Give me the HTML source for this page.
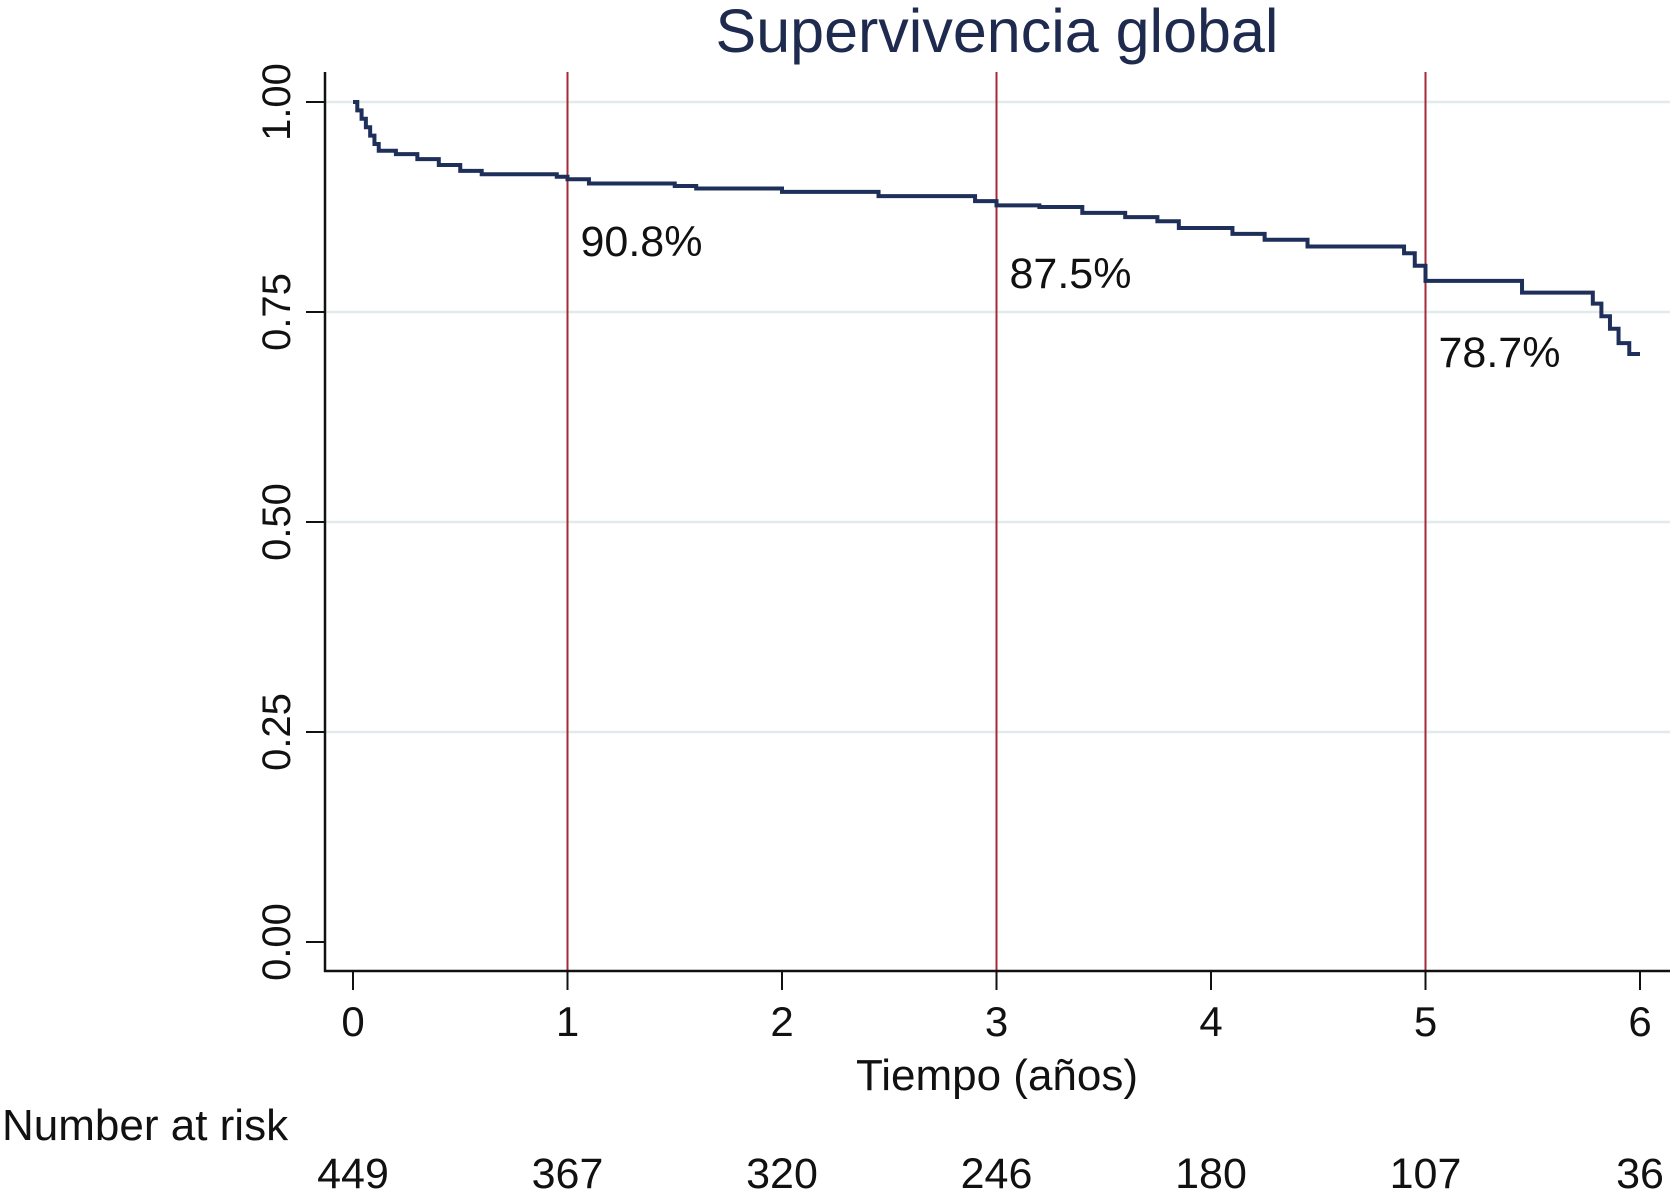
<!DOCTYPE html>
<html><head><meta charset="utf-8"><style>
body{margin:0;background:#fff}
svg{display:block;font-family:"Liberation Sans",sans-serif}
</style></head><body>
<svg id="chart" width="1675" height="1198" viewBox="0 0 1675 1198">
<text x="997" y="52" text-anchor="middle" font-size="61" fill="#1e2a4e">Supervivencia global</text>
<g id="grid"></g><g id="marks"></g><g id="axes"></g>
<text x="997" y="1090" text-anchor="middle" font-size="44" fill="#111">Tiempo (años)</text>
<text x="2" y="1140" font-size="44" fill="#111">Number at risk</text>
</svg>
<script>
const times=[0,0.02,0.04,0.06,0.08,0.1,0.12,0.2,0.3,0.4,0.5,0.6,0.9,0.95,1.0,1.1,1.5,1.6,2.0,2.45,2.9,3.0,3.2,3.4,3.6,3.75,3.85,4.1,4.25,4.45,4.9,4.95,5.0,5.38,5.45,5.78,5.82,5.86,5.9,5.95,6.0];
const surv=[1.0,0.99,0.98,0.97,0.96,0.95,0.942,0.938,0.932,0.925,0.918,0.914,0.914,0.911,0.908,0.903,0.900,0.897,0.893,0.888,0.882,0.877,0.875,0.868,0.863,0.858,0.850,0.843,0.836,0.828,0.820,0.805,0.787,0.787,0.773,0.760,0.745,0.730,0.713,0.700,0.700];
const xTicks=[0,1,2,3,4,5,6];
const yTicks=[0,0.25,0.5,0.75,1.0];
const yTickLabels=["0.00","0.25","0.50","0.75","1.00"];
const refYears=[1,3,5];
const refLabels=["90.8%","87.5%","78.7%"];
const atRisk=[449,367,320,246,180,107,36];
const NS="http://www.w3.org/2000/svg";
const X=t=>353+t*214.5;
const Y=v=>942-v*840;
function mk(tag,attrs,parent,text){const e=document.createElementNS(NS,tag);for(const k in attrs)e.setAttribute(k,attrs[k]);if(text!==undefined)e.textContent=text;parent.appendChild(e);return e;}
const grid=document.getElementById('grid'),marks=document.getElementById('marks'),axes=document.getElementById('axes');
yTicks.forEach((v,i)=>{
 if(v>0){const g=mk('line',{x1:326,x2:1670,y1:Y(v),y2:Y(v),stroke:'#e3eaee','stroke-width':2.5},grid);
 
 }
 const t=mk('line',{x1:306,x2:325,y1:Y(v),y2:Y(v),stroke:'#111','stroke-width':2},axes);
 
 
 const l=mk('text',{x:0,y:0,transform:`translate(290,${Y(v)}) rotate(-90)`,'text-anchor':'middle','font-size':40,fill:'#111'},axes,yTickLabels[i]);
 
 
});
refYears.forEach((yr,i)=>{
 const r=mk('line',{x1:X(yr),x2:X(yr),y1:72,y2:971,stroke:'#a52a35','stroke-width':2},marks);
 
 
 const l=mk('text',{x:X(yr)+13,y:[256,288,367][i],'font-size':43,fill:'#111'},marks,refLabels[i]);
 
 
});
let d=`M${X(times[0])},${Y(surv[0])}`;
for(let i=1;i<times.length;i++){d+=` L${X(times[i])},${Y(surv[i-1])} L${X(times[i])},${Y(surv[i])}`;}
const p=mk('path',{d:d,fill:'none',stroke:'#1e2f5a','stroke-width':4},marks);


const ya=mk('line',{x1:325,x2:325,y1:72,y2:972,stroke:'#111','stroke-width':2.5},axes);


const xa=mk('line',{x1:324,x2:1670,y1:971,y2:971,stroke:'#111','stroke-width':2.5},axes);


xTicks.forEach((t,i)=>{
 const k=mk('line',{x1:X(t),x2:X(t),y1:971,y2:990,stroke:'#111','stroke-width':2},axes);
 
 
 const l=mk('text',{x:X(t),y:1036,'text-anchor':'middle','font-size':42,fill:'#111'},axes,String(t));
 
 
 const r=mk('text',{x:X(t),y:1188,'text-anchor':'middle','font-size':43,fill:'#111'},axes,String(atRisk[i]));
 
 
});
</script>
</body></html>
